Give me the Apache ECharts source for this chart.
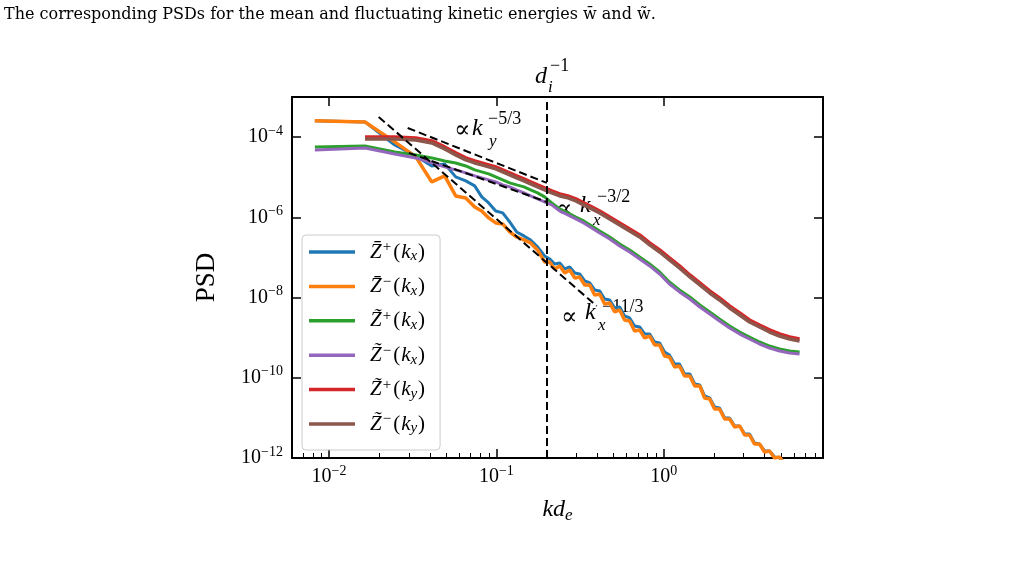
<!DOCTYPE html>
<html>
<head>
<meta charset="utf-8">
<script src="https://cdn.jsdelivr.net/npm/echarts@6/dist/echarts.min.js"></script>
<style>
  html, body { margin: 0; padding: 0; background: #fff; }
  #main { width: 1033px; height: 569px; }
</style>
</head>
<body>
<div id="main"></div>
<script>
// kd_e sample points
// kxMean: for the mean spectra (denser at high k where they are noisy)
var kxMean = [0.00823, 0.0164, 0.0247, 0.0330, 0.0411, 0.0491, 0.0571, 0.0656, 0.0742, 0.0817, 0.0899, 0.0990,
  0.109, 0.120, 0.132, 0.146, 0.160, 0.176,
  0.194, 0.208, 0.223, 0.239, 0.256, 0.274, 0.294, 0.314, 0.337, 0.361, 0.386, 0.414, 0.443, 0.475, 0.509, 0.545,
  0.583, 0.625, 0.669, 0.717, 0.768, 0.823, 0.881, 0.944, 1.01, 1.08, 1.16, 1.24, 1.33, 1.43, 1.53, 1.64, 1.75,
  1.88, 2.01, 2.15, 2.31, 2.47, 2.65, 2.84, 3.04, 3.25, 3.48, 3.73, 4.00, 4.28, 4.59, 4.91, 5.26, 5.64, 6.04, 6.47];
var kx = [0.00823, 0.0164, 0.0247, 0.0330, 0.0411, 0.0491, 0.0571, 0.0656, 0.0742, 0.0817, 0.0899, 0.0990,
  0.109, 0.120, 0.132, 0.146, 0.160, 0.176, 0.194, 0.214, 0.239, 0.267, 0.298, 0.332, 0.371, 0.414, 0.475,
  0.545, 0.625, 0.717, 0.823, 0.944, 1.08, 1.24, 1.43, 1.64, 1.88, 2.15, 2.47, 2.84, 3.25, 3.73, 4.28, 4.91, 5.64, 6.47];
var ky = [0.0164, 0.0247, 0.0330, 0.0411, 0.0491, 0.0571, 0.0656, 0.0742, 0.0817, 0.0899, 0.0990,
  0.109, 0.120, 0.132, 0.146, 0.160, 0.176, 0.194, 0.214, 0.239, 0.267, 0.298, 0.332, 0.371, 0.414, 0.475,
  0.545, 0.625, 0.717, 0.823, 0.944, 1.08, 1.24, 1.43, 1.64, 1.88, 2.15, 2.47, 2.84, 3.25, 3.73, 4.28, 4.91, 5.64, 6.47];

// PSD values
var zbarPlusX = [2.54e-4, 2.39e-4, 6.38e-5, 3.40e-5, 1.91e-5, 2.15e-5, 1.02e-5, 8.09e-6, 6.07e-6, 3.23e-6, 2.29e-6, 1.44e-6,
  1.29e-6, 7.68e-7, 4.32e-7, 3.44e-7, 2.73e-7, 1.83e-7,
  1.09e-7, 9.18e-8, 6.88e-8, 7.29e-8, 5.17e-8, 5.80e-8, 4.11e-8, 3.88e-8, 2.59e-8, 2.31e-8, 1.55e-8, 1.46e-8,
  9.23e-9, 8.71e-9, 5.50e-9, 5.83e-9, 3.48e-9, 3.10e-9, 1.96e-9, 1.85e-9, 1.24e-9, 1.24e-9, 7.81e-10, 7.38e-10,
  4.40e-10, 3.70e-10, 2.21e-10, 2.21e-10, 1.24e-10, 1.24e-10, 7.00e-11, 6.61e-11, 3.52e-11, 3.14e-11, 1.87e-11,
  1.77e-11, 9.94e-12, 9.94e-12, 6.28e-12, 6.28e-12, 3.97e-12, 3.97e-12, 2.37e-12, 2.23e-12, 1.50e-12, 1.50e-12,
  1.06e-12, 1.00e-12, 7.51e-13, 7.09e-13, 5.32e-13, 5.32e-13];
var zbarMinusX = [2.54e-4, 2.39e-4, 7.59e-5, 3.21e-5, 7.63e-6, 1.08e-5, 3.41e-6, 3.05e-6, 1.82e-6, 1.44e-6, 9.67e-7, 7.25e-7,
  6.85e-7, 4.32e-7, 3.24e-7, 2.73e-7, 2.30e-7, 1.54e-7,
  7.72e-8, 7.72e-8, 5.17e-8, 6.14e-8, 4.11e-8, 4.88e-8, 3.08e-8, 3.26e-8, 2.06e-8, 2.06e-8, 1.16e-8, 1.23e-8,
  6.92e-9, 7.33e-9, 4.37e-9, 4.91e-9, 2.76e-9, 2.61e-9, 1.47e-9, 1.56e-9, 9.83e-10, 1.10e-9, 6.58e-10, 6.58e-10,
  3.50e-10, 3.30e-10, 1.86e-10, 1.97e-10, 1.11e-10, 1.11e-10, 6.24e-11, 6.24e-11, 3.14e-11, 2.96e-11, 1.67e-11,
  1.67e-11, 9.39e-12, 9.39e-12, 5.93e-12, 6.28e-12, 3.75e-12, 3.75e-12, 2.23e-12, 2.23e-12, 1.41e-12, 1.50e-12,
  1.00e-12, 1.06e-12, 7.09e-13, 7.51e-13, 5.02e-13, 5.63e-13];
var ztilPlusX = [5.70e-5, 6.04e-5, 4.28e-5, 3.60e-5, 3.03e-5, 2.55e-5, 2.27e-5, 1.91e-5, 1.52e-5, 1.36e-5, 1.21e-5, 1.02e-5,
  8.57e-6, 7.21e-6, 6.43e-6, 5.73e-6, 4.82e-6, 4.06e-6, 3.23e-6, 2.29e-6, 1.62e-6, 1.29e-6, 1.02e-6, 8.13e-7, 6.10e-7, 4.58e-7,
  3.24e-7, 2.17e-7, 1.54e-7, 1.03e-7, 6.88e-8, 4.35e-8, 2.45e-8, 1.55e-8, 1.03e-8, 6.53e-9, 4.37e-9, 2.92e-9,
  1.95e-9, 1.38e-9, 1.04e-9, 7.79e-10, 6.19e-10, 5.22e-10, 4.65e-10, 4.40e-10];
var ztilMinusX = [4.80e-5, 5.38e-5, 3.81e-5, 3.03e-5, 2.27e-5, 1.81e-5, 1.52e-5, 1.28e-5, 1.08e-5, 9.60e-6, 8.57e-6, 7.63e-6,
  6.43e-6, 5.73e-6, 4.82e-6, 4.06e-6, 3.41e-6, 2.88e-6, 2.42e-6, 2.04e-6, 1.44e-6, 1.15e-6, 9.12e-7, 7.25e-7, 5.44e-7, 4.08e-7,
  2.89e-7, 1.93e-7, 1.37e-7, 9.17e-8, 6.14e-8, 3.87e-8, 2.18e-8, 1.38e-8, 9.22e-9, 5.82e-9, 3.89e-9, 2.61e-9,
  1.74e-9, 1.23e-9, 9.26e-10, 6.95e-10, 5.52e-10, 4.65e-10, 4.15e-10, 3.92e-10];
var ztilPlusY = [1.01e-4, 1.01e-4, 9.55e-5, 8.04e-5, 5.69e-5, 4.04e-5, 3.03e-5, 2.55e-5, 2.27e-5, 2.03e-5, 1.81e-5,
  1.52e-5, 1.28e-5, 1.08e-5, 9.07e-6, 7.63e-6, 6.43e-6, 5.41e-6, 4.55e-6, 3.83e-6, 3.41e-6, 2.88e-6, 2.29e-6, 1.82e-6, 1.44e-6,
  1.02e-6, 7.25e-7, 5.14e-7, 3.64e-7, 2.30e-7, 1.54e-7, 9.71e-8, 6.14e-8, 3.66e-8, 2.31e-8, 1.46e-8, 9.77e-9, 6.17e-9,
  4.13e-9, 2.76e-9, 2.07e-9, 1.56e-9, 1.24e-9, 1.04e-9, 9.27e-10];
var ztilMinusY = [9.02e-5, 9.02e-5, 8.51e-5, 7.17e-5, 5.08e-5, 3.60e-5, 2.70e-5, 2.27e-5, 2.03e-5, 1.81e-5, 1.61e-5,
  1.36e-5, 1.14e-5, 9.61e-6, 8.09e-6, 6.81e-6, 5.73e-6, 4.82e-6, 4.06e-6, 3.41e-6, 3.05e-6, 2.56e-6, 2.04e-6, 1.62e-6, 1.29e-6,
  9.12e-7, 6.46e-7, 4.58e-7, 3.24e-7, 2.05e-7, 1.37e-7, 8.65e-8, 5.47e-8, 3.26e-8, 2.06e-8, 1.30e-8, 8.71e-9, 5.50e-9,
  3.68e-9, 2.46e-9, 1.85e-9, 1.38e-9, 1.10e-9, 9.27e-10, 8.26e-10];

// power-law guide lines (end points)
var fit53K = [0.0295, 0.200], fit53P = [1.69e-4, 7.21e-6];
var fit32K = [0.0300, 0.200], fit32P = [4.04e-5, 2.42e-6];
var fit113K = [0.0198, 0.397], fit113P = [3.19e-4, 6.17e-9];
var diK = 0.2; // d_i^-1

// axes
var xMin = 0.00601, xMax = 8.93;
var yMin = 1e-12, yMax = 1e-3;
var xMajor = [0.01, 0.1, 1];
var xMinor = [0.007, 0.008, 0.009, 0.02, 0.03, 0.04, 0.05, 0.06, 0.07, 0.08, 0.09,
  0.2, 0.3, 0.4, 0.5, 0.6, 0.7, 0.8, 0.9, 2, 3, 4, 5, 6, 7, 8];
var yMajor = [1e-12, 1e-10, 1e-8, 1e-6, 1e-4];

var names = ['Zbp', 'Zbm', 'Ztpx', 'Ztmx', 'Ztpy', 'Ztmy'];
var colors = ['#1f77b4', '#ff7f0e', '#2ca02c', '#9467bd', '#d62728', '#8c564b'];
var legendText = {
  Zbp: '{z|Z\u0304}{sup|+}{p|(}{k|k}{sub|x}{p|)}',
  Zbm: '{z|Z\u0304}{sup|\u2212}{p|(}{k|k}{sub|x}{p|)}',
  Ztpx: '{z|Z\u0303}{sup|+}{p|(}{k|k}{sub|x}{p|)}',
  Ztmx: '{z|Z\u0303}{sup|\u2212}{p|(}{k|k}{sub|x}{p|)}',
  Ztpy: '{z|Z\u0303}{sup|+}{p|(}{k|k}{sub|y}{p|)}',
  Ztmy: '{z|Z\u0303}{sup|\u2212}{p|(}{k|k}{sub|y}{p|)}'
};

var SERIF = "'Liberation Serif', 'DejaVu Serif', serif";

function pairs(xs, ys) {
  return xs.map(function (x, i) { return [x, ys[i]]; });
}

function powLabel(v) {
  var e = Math.round(Math.log(v) / Math.LN10);
  return '{b|10}{s|' + (e < 0 ? '\u2212' + (-e) : e) + '}';
}

var tickRich = {
  b: { fontFamily: SERIF, fontSize: 20, lineHeight: 26, color: '#000' },
  s: { fontFamily: SERIF, fontSize: 14, lineHeight: 12, verticalAlign: 'top', color: '#000' }
};

var axisLine = { show: true, lineStyle: { color: '#000', width: 2 } };
var tickStyle = { color: '#000', width: 1.5 };

function curve(i, ks, vals, w) {
  return {
    name: names[i], type: 'line', data: pairs(ks, vals),
    symbol: 'none', showSymbol: false, clip: true,
    lineStyle: { color: colors[i], width: w },
    itemStyle: { color: colors[i] },
    z: 2 + i * 0.01
  };
}

function guide(ks, ps) {
  return {
    type: 'line', data: pairs(ks, ps), symbol: 'none', clip: true, z: 3,
    lineStyle: { color: '#000', width: 2, type: [8, 4] }
  };
}

var vline = guide(fit53K, fit53P);
vline.markLine = {
  silent: true, symbol: 'none', label: { show: false },
  lineStyle: { color: '#000', width: 2, type: [8, 4] },
  data: [{ xAxis: diK }]
};

function txt(x, y, s, font) {
  return { type: 'text', x: x, y: y, style: { text: s, font: font, fill: '#000', textAlign: 'left', textVerticalAlign: 'middle' } };
}
var big = "24px " + SERIF, bigI = "italic 24px " + SERIF;
var sm = "18px " + SERIF, smI = "italic 17px " + SERIF;

var chart = echarts.init(document.getElementById('main'));
chart.setOption({
  animation: false,
  backgroundColor: '#fff',
  grid: { left: 292, right: 210, top: 97, bottom: 111, containLabel: false },
  xAxis: [
    {
      type: 'log', logBase: 10, min: xMin, max: xMax, position: 'bottom',
      axisLine: axisLine,
      axisTick: { show: true, inside: true, length: 9, lineStyle: tickStyle, customValues: xMajor },
      axisLabel: { customValues: xMajor, formatter: powLabel, margin: 6, rich: tickRich },
      splitLine: { show: false }, minorTick: { show: false },
      name: '{k|kd}{e|e}', nameLocation: 'middle', nameGap: 38,
      nameTextStyle: {
        rich: {
          k: { fontFamily: SERIF, fontStyle: 'italic', fontSize: 24, lineHeight: 28, color: '#000' },
          e: { fontFamily: SERIF, fontStyle: 'italic', fontSize: 17, lineHeight: 14, verticalAlign: 'bottom', color: '#000' }
        }
      }
    },
    {
      type: 'log', logBase: 10, min: xMin, max: xMax, position: 'top',
      axisLine: axisLine,
      axisTick: { show: true, inside: true, length: 9, lineStyle: tickStyle, customValues: xMajor },
      axisLabel: { show: false }, splitLine: { show: false }
    },
    {
      type: 'log', logBase: 10, min: xMin, max: xMax, position: 'bottom',
      axisLine: { show: false },
      axisTick: { show: true, inside: true, length: 5, lineStyle: { color: '#000', width: 1 }, customValues: xMinor },
      axisLabel: { show: false }, splitLine: { show: false }
    }
  ],
  yAxis: [
    {
      type: 'log', logBase: 10, min: yMin, max: yMax, position: 'left',
      axisLine: axisLine,
      axisTick: { show: true, inside: true, length: 9, lineStyle: tickStyle, customValues: yMajor },
      axisLabel: { customValues: yMajor, formatter: powLabel, margin: 9, rich: tickRich },
      splitLine: { show: false },
      name: 'PSD', nameLocation: 'middle', nameGap: 72,
      nameTextStyle: { fontFamily: SERIF, fontSize: 27, color: '#000' }
    },
    {
      type: 'log', logBase: 10, min: yMin, max: yMax, position: 'right',
      axisLine: axisLine,
      axisTick: { show: true, inside: true, length: 9, lineStyle: tickStyle, customValues: yMajor },
      axisLabel: { show: false }, splitLine: { show: false }
    }
  ],
  legend: {
    orient: 'vertical', left: 302, top: 235,
    data: names,
    icon: 'rect',
    itemWidth: 46, itemHeight: 3.5, itemGap: 10.4,
    padding: [5, 14, 14, 7],
    backgroundColor: 'rgba(255,255,255,0.8)',
    borderColor: '#cccccc', borderWidth: 1, borderRadius: 4,
    formatter: function (n) { return legendText[n]; },
    textStyle: {
      rich: {
        z: { fontFamily: SERIF, fontStyle: 'italic', fontSize: 21, lineHeight: 24, padding: [0, 1, 0, 10], color: '#000' },
        sup: { fontFamily: SERIF, fontSize: 15, lineHeight: 14, verticalAlign: 'top', padding: [0, 1, 0, 0], color: '#000' },
        p: { fontFamily: SERIF, fontSize: 21, lineHeight: 24, padding: [0, 1, 0, 1], color: '#000' },
        k: { fontFamily: SERIF, fontStyle: 'italic', fontSize: 21, lineHeight: 24, color: '#000' },
        sub: { fontFamily: SERIF, fontStyle: 'italic', fontSize: 15, lineHeight: 12, verticalAlign: 'bottom', color: '#000' }
      }
    }
  },
  series: [
    curve(0, kxMean, zbarPlusX, 3),
    curve(1, kxMean, zbarMinusX, 3.5),
    curve(2, kx, ztilPlusX, 3),
    curve(3, kx, ztilMinusX, 3),
    curve(4, ky, ztilPlusY, 3.5),
    curve(5, ky, ztilMinusY, 3.5),
    vline,
    guide(fit32K, fit32P),
    guide(fit113K, fit113P)
  ],
  graphic: [
    txt(4, 15, 'The corresponding PSDs for the mean and fluctuating kinetic energies w\u0304 and w\u0303.', "16px 'DejaVu Serif', serif"),
    // d_i^-1
    txt(535, 77, 'd', bigI), txt(550, 66, '\u22121', sm), txt(548, 88, 'i', smI),
    // k_y^-5/3
    txt(454, 131, '\u221d', big), txt(472, 129, 'k', bigI), txt(488, 119, '\u22125/3', sm), txt(489, 142, 'y', smI),
    // k_x^-3/2
    txt(556, 210, '\u221d', big), txt(580, 206, 'k', bigI), txt(597, 197, '\u22123/2', sm), txt(593, 221, 'x', smI),
    // k_x^-11/3
    txt(561, 318, '\u221d', big), txt(585, 313, 'k', bigI), txt(602, 307, '\u221211/3', sm), txt(598, 326, 'x', smI)
  ]
});
</script>
</body>
</html>
